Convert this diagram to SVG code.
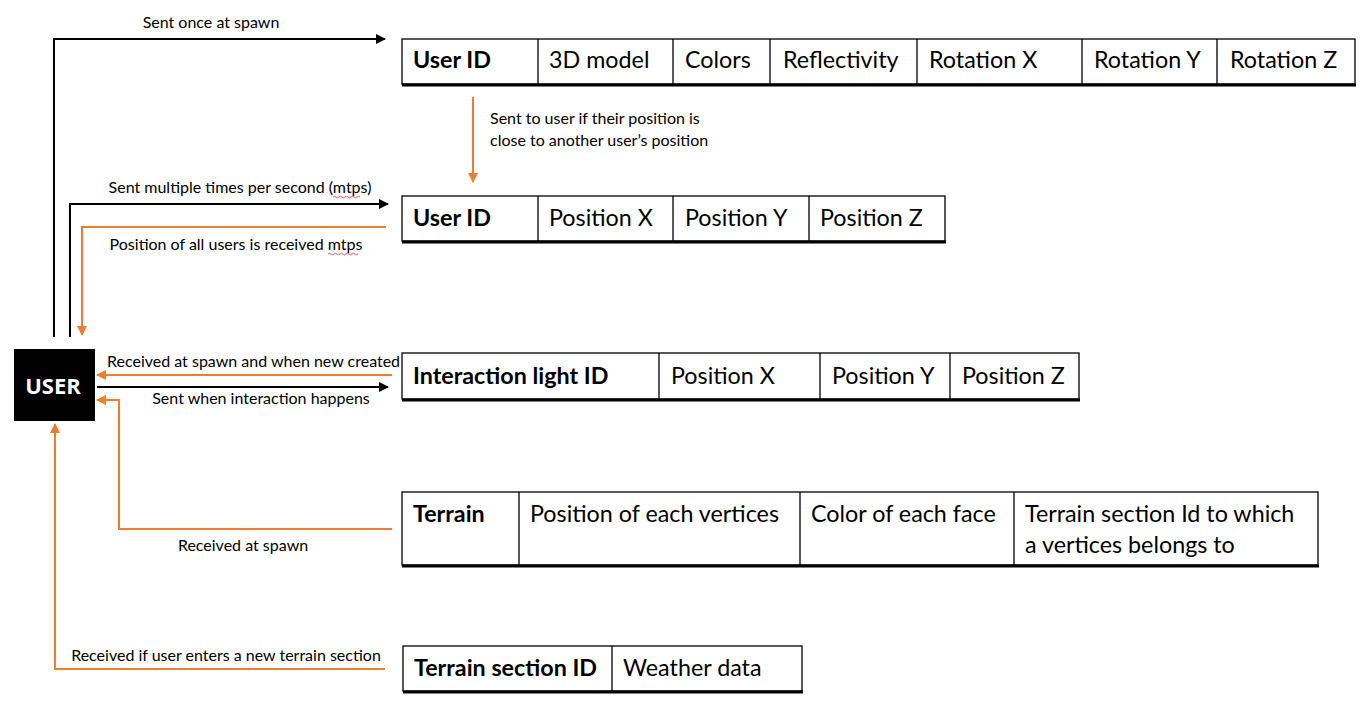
<svg xmlns="http://www.w3.org/2000/svg" width="1366" height="710" viewBox="0 0 1366 710">
<defs>
<marker id="ab" viewBox="0 0 10 10" refX="9" refY="5" markerWidth="5" markerHeight="5" orient="auto"><path d="M0,0 L10,5 L0,10 z" fill="#000"/></marker>
<marker id="ao" viewBox="0 0 10 10" refX="9" refY="5" markerWidth="5" markerHeight="5" orient="auto"><path d="M0,0 L10,5 L0,10 z" fill="#ED7D31"/></marker>
<style>
.cell{fill:#fff;stroke:#000;stroke-width:1.3}
.div{stroke:#000;stroke-width:1.3}
.bot{stroke:#000;stroke-width:3}
.t{font-family:Lato,"Liberation Sans",sans-serif;font-size:23.3px;fill:#000}
.b{font-weight:bold}
.lbl{font-family:Lato,"Liberation Sans",sans-serif;font-size:16px;fill:#000}
.k{fill:none;stroke:#000;stroke-width:2}
.o{fill:none;stroke:#ED7D31;stroke-width:2}
.sq{fill:none;stroke:#e03030;stroke-width:0.8}
</style>
</defs>
<rect width="1366" height="710" fill="#fff"/>

<g id="connectors">
<path class="k" d="M54,337 V39 H385" marker-end="url(#ab)"/>
<text class="lbl" x="211" y="28" text-anchor="middle">Sent once at spawn</text>
<path class="k" d="M70,337 V204 H388" marker-end="url(#ab)"/>
<text class="lbl" x="240" y="193" text-anchor="middle">Sent multiple times per second (mtps)</text>
<path class="sq" d="M333,197 q1.5,-1.5 3,0 t3,0 t3,0 t3,0 t3,0 t3,0 t3,0 t3,0 t3,0"/>
<path class="o" d="M386,227 H82 V335" marker-end="url(#ao)"/>
<text class="lbl" x="236" y="250" text-anchor="middle">Position of all users is received mtps</text>
<path class="sq" d="M328,254 q1.5,-1.5 3,0 t3,0 t3,0 t3,0 t3,0 t3,0 t3,0 t3,0 t3,0 t3,0"/>
<path class="o" d="M473,97 V182" marker-end="url(#ao)"/>
<text class="lbl" x="490" y="124">Sent to user if their position is</text>
<text class="lbl" x="490" y="146">close to another user’s position</text>
<path class="o" d="M392,375 H97" marker-end="url(#ao)"/>
<text class="lbl" x="107" y="367">Received at spawn and when new created</text>
<path class="k" d="M97,387 H388" marker-end="url(#ab)"/>
<text class="lbl" x="261" y="404" text-anchor="middle">Sent when interaction happens</text>
<path class="o" d="M392,529 H119 V400 H97" marker-end="url(#ao)"/>
<text class="lbl" x="243" y="551" text-anchor="middle">Received at spawn</text>
<path class="o" d="M385,669 H55 V424" marker-end="url(#ao)"/>
<text class="lbl" x="226" y="661" text-anchor="middle">Received if user enters a new terrain section</text>
</g>

<g id="user">
<rect x="14" y="349" width="81" height="72" fill="#000"/>
<text x="53" y="394" text-anchor="middle" font-family="'Open Sans',Lato,sans-serif" font-weight="bold" font-size="22" fill="#fff">USER</text>
</g>

<g id="table-user-static">
<rect class="cell" x="402" y="39" width="953" height="45"/>
<line class="bot" x1="402" y1="85" x2="1356" y2="85"/>
<path class="div" d="M538,39V84 M673,39V84 M770,39V84 M917,39V84 M1082,39V84 M1217,39V84"/>
<text class="t b" x="413" y="68">User ID</text>
<text class="t" x="549" y="68">3D model</text>
<text class="t" x="685" y="68">Colors</text>
<text class="t" x="783" y="68">Reflectivity</text>
<text class="t" x="929" y="68">Rotation X</text>
<text class="t" x="1094" y="68">Rotation Y</text>
<text class="t" x="1230" y="68">Rotation Z</text>
</g>

<g id="table-user-position">
<rect class="cell" x="402" y="196" width="543" height="45"/>
<line class="bot" x1="402" y1="242" x2="946" y2="242"/>
<path class="div" d="M538,196V241 M673,196V241 M809,196V241"/>
<text class="t b" x="413" y="226">User ID</text>
<text class="t" x="549" y="226">Position X</text>
<text class="t" x="685" y="226">Position Y</text>
<text class="t" x="820" y="226">Position Z</text>
</g>

<g id="table-interaction">
<rect class="cell" x="402" y="353" width="677" height="46"/>
<line class="bot" x1="402" y1="400" x2="1080" y2="400"/>
<path class="div" d="M659,353V399 M820,353V399 M950,353V399"/>
<text class="t b" x="413" y="384">Interaction light ID</text>
<text class="t" x="671" y="384">Position X</text>
<text class="t" x="832" y="384">Position Y</text>
<text class="t" x="962" y="384">Position Z</text>
</g>

<g id="table-terrain">
<rect class="cell" x="402" y="492" width="916" height="73"/>
<line class="bot" x1="402" y1="566" x2="1319" y2="566"/>
<path class="div" d="M519,492V565 M800,492V565 M1014,492V565"/>
<text class="t b" x="413" y="522">Terrain</text>
<text class="t" x="530" y="522">Position of each vertices</text>
<text class="t" x="811" y="522">Color of each face</text>
<text class="t" x="1025" y="522">Terrain section Id to which</text>
<text class="t" x="1025" y="553">a vertices belongs to</text>
</g>

<g id="table-terrain-section">
<rect class="cell" x="403" y="646" width="399" height="45"/>
<line class="bot" x1="403" y1="692" x2="803" y2="692"/>
<path class="div" d="M612,646V691"/>
<text class="t b" x="414" y="676">Terrain section ID</text>
<text class="t" x="623" y="676">Weather data</text>
</g>
</svg>
